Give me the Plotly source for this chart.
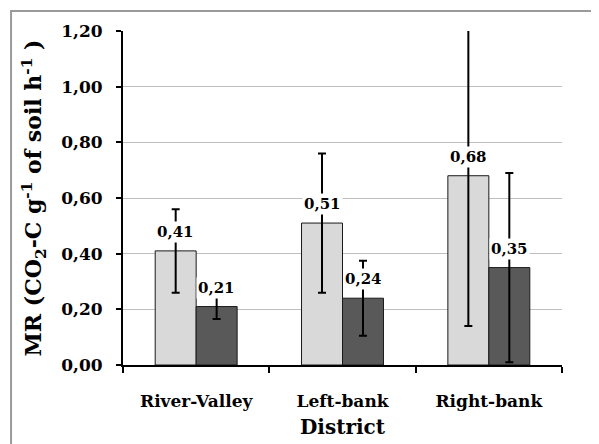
import plotly.graph_objects as go

districts = ["River-Valley", "Left-bank", "Right-bank"]
light_vals = [0.41, 0.51, 0.68]
light_err = [0.15, 0.25, 0.54]
dark_vals = [0.21, 0.24, 0.35]
dark_err = [0.045, 0.135, 0.34]
y_ticks = [0.0, 0.2, 0.4, 0.6, 0.8, 1.0, 1.2]
y_ticktext = ["0,00", "0,20", "0,40", "0,60", "0,80", "1,00", "1,20"]

FONT = "DejaVu Serif"

fig = go.Figure()
fig.add_trace(go.Bar(
    x=districts, y=light_vals, name="light",
    marker=dict(color="#d9d9d9", line=dict(color="#1a1a1a", width=1)),
    error_y=dict(type="data", array=light_err, color="black", thickness=2, width=4),
))
fig.add_trace(go.Bar(
    x=districts, y=dark_vals, name="dark",
    marker=dict(color="#595959", line=dict(color="#1a1a1a", width=1)),
    error_y=dict(type="data", array=dark_err, color="black", thickness=2, width=4),
))

def fmt(v):
    return f"{v:.2f}".replace(".", ",")

annotations = []
for d, v in zip(districts, light_vals):
    annotations.append(dict(x=d, y=v, xref="x", yref="y", text=fmt(v), showarrow=False,
                            xshift=-20.5, yshift=19, bgcolor="white", borderpad=1,
                            font=dict(family=FONT, size=15, color="black", weight="bold")))
for d, v in zip(districts, dark_vals):
    annotations.append(dict(x=d, y=v, xref="x", yref="y", text=fmt(v), showarrow=False,
                            xshift=20.5, yshift=19, bgcolor="white", borderpad=1,
                            font=dict(family=FONT, size=15, color="black", weight="bold")))

fig.update_layout(
    width=591, height=436,
    margin=dict(l=115, r=37, t=23, b=79),
    paper_bgcolor="white", plot_bgcolor="white",
    barmode="group", bargap=0.44, bargroupgap=0,
    showlegend=False,
    annotations=annotations,
    shapes=[dict(type="rect", xref="paper", yref="paper",
                 x0=-0.255, x1=1.08, y0=-0.26, y1=1.06,
                 line=dict(color="#9a9a9a", width=2), fillcolor="rgba(0,0,0,0)", layer="below")],
)
fig.update_xaxes(
    type="category", tickson="boundaries", ticks="outside", ticklen=6, tickwidth=2, tickcolor="black",
    showline=True, linecolor="black", linewidth=2, automargin=False,
    ticklabelstandoff=20,
    tickfont=dict(family=FONT, size=17, color="black", weight="bold"),
    title=dict(text="District", font=dict(family=FONT, size=20, color="black", weight="bold"), standoff=10),
)
fig.update_yaxes(
    range=[0, 1.2], tickvals=y_ticks, ticktext=y_ticktext,
    ticks="outside", ticklen=5, tickwidth=2, tickcolor="black",
    showline=True, linecolor="black", linewidth=2, automargin=False,
    showgrid=True, gridcolor="#bfbfbf", gridwidth=1, zeroline=False,
    ticklabelstandoff=10,
    tickfont=dict(family=FONT, size=17, color="black", weight="bold"),
    title=dict(text="MR (CO<sub>2</sub>-C g<sup>-1</sup> of soil h<sup>-1</sup> )",
               font=dict(family=FONT, size=22, color="black", weight="bold"), standoff=13),
)

fig.write_html("out.html")
